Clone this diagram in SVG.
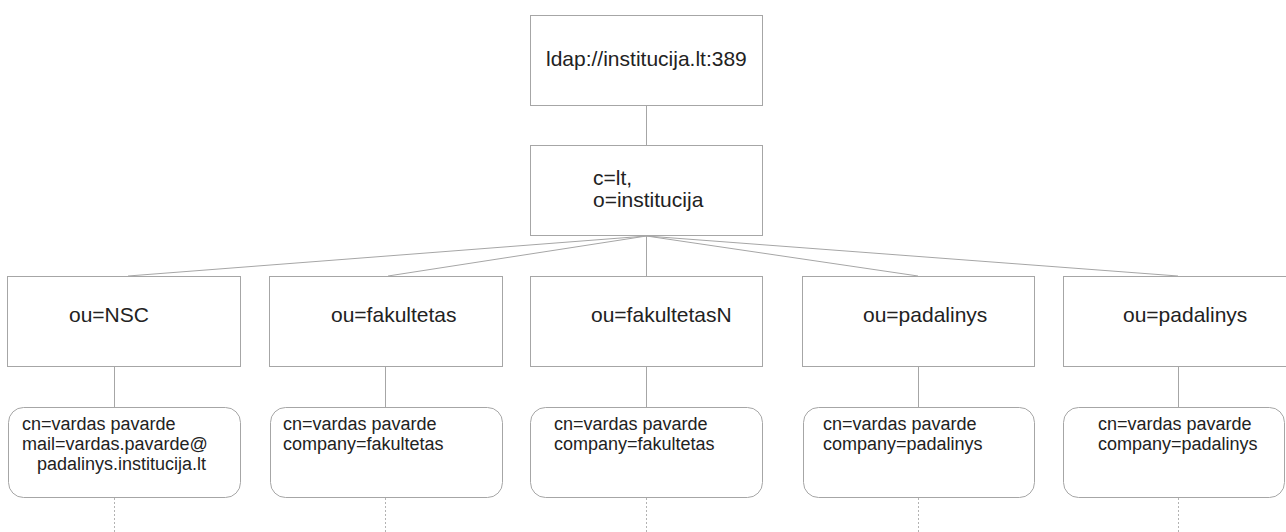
<svg xmlns="http://www.w3.org/2000/svg" width="1286" height="532" viewBox="0 0 1286 532">
  <style>
    .box { fill: #ffffff; stroke: #a6a6a6; stroke-width: 1; }
    .link { stroke: #a6a6a6; stroke-width: 1; fill: none; }
    .more { stroke: #b3b3b3; stroke-width: 1; stroke-dasharray: 2 2; fill: none; }
    .big { font-family: "Liberation Sans", Arial, sans-serif; font-size: 21px; fill: #222222; }
    .small { font-family: "Liberation Sans", Arial, sans-serif; font-size: 18px; fill: #222222; }
  </style>

  <rect width="1286" height="532" fill="#ffffff"/>

  <!-- connectors -->
  <g id="connectors">
    <line class="link" x1="646.5" y1="105" x2="646.5" y2="145"/>
    <line class="link" x1="646.5" y1="236" x2="128" y2="276"/>
    <line class="link" x1="646.5" y1="236" x2="388" y2="276"/>
    <line class="link" x1="646.5" y1="236" x2="646.5" y2="276"/>
    <line class="link" x1="646.5" y1="236" x2="918" y2="276"/>
    <line class="link" x1="646.5" y1="236" x2="1178" y2="276"/>
    <line class="link" x1="114.5" y1="367" x2="114.5" y2="407"/>
    <line class="link" x1="385.5" y1="367" x2="385.5" y2="407"/>
    <line class="link" x1="646.5" y1="367" x2="646.5" y2="407"/>
    <line class="link" x1="918.5" y1="367" x2="918.5" y2="407"/>
    <line class="link" x1="1178.5" y1="367" x2="1178.5" y2="407"/>
    <line class="more" x1="114.5" y1="498" x2="114.5" y2="532"/>
    <line class="more" x1="385.5" y1="498" x2="385.5" y2="532"/>
    <line class="more" x1="646.5" y1="498" x2="646.5" y2="532"/>
    <line class="more" x1="918.5" y1="498" x2="918.5" y2="532"/>
    <line class="more" x1="1178.5" y1="498" x2="1178.5" y2="532"/>
  </g>

  <!-- server -->
  <g id="server">
    <rect class="box" x="530.5" y="15.5" width="232" height="90"/>
    <text class="big" x="546" y="66">ldap://institucija.lt:389</text>
  </g>

  <!-- root entry -->
  <g id="root">
    <rect class="box" x="530.5" y="145.5" width="232" height="90"/>
    <text class="big" x="593" y="185">c=lt,</text>
    <text class="big" x="593" y="207">o=institucija</text>
  </g>

  <!-- organizational units -->
  <g id="ou-nsc">
    <rect class="box" x="7.5" y="276.5" width="233" height="90"/>
    <text class="big" x="69" y="322">ou=NSC</text>
  </g>
  <g id="ou-fakultetas">
    <rect class="box" x="269.5" y="276.5" width="233" height="90"/>
    <text class="big" x="331" y="322">ou=fakultetas</text>
  </g>
  <g id="ou-fakultetasN">
    <rect class="box" x="530.5" y="276.5" width="232" height="90"/>
    <text class="big" x="591" y="322">ou=fakultetasN</text>
  </g>
  <g id="ou-padalinys-1">
    <rect class="box" x="802.5" y="276.5" width="232" height="90"/>
    <text class="big" x="863" y="322">ou=padalinys</text>
  </g>
  <g id="ou-padalinys-2">
    <rect class="box" x="1063.5" y="276.5" width="240" height="90"/>
    <text class="big" x="1123" y="322">ou=padalinys</text>
  </g>

  <!-- person entries -->
  <g id="cn-nsc">
    <rect class="box" x="8.5" y="407.5" width="232" height="90" rx="15" ry="15"/>
    <text class="small" x="22" y="430">cn=vardas pavarde</text>
    <text class="small" x="22" y="450">mail=vardas.pavarde@</text>
    <text class="small" x="37" y="470">padalinys.institucija.lt</text>
  </g>
  <g id="cn-fakultetas">
    <rect class="box" x="270.5" y="407.5" width="232" height="90" rx="15" ry="15"/>
    <text class="small" x="283" y="430">cn=vardas pavarde</text>
    <text class="small" x="283" y="450">company=fakultetas</text>
  </g>
  <g id="cn-fakultetasN">
    <rect class="box" x="530.5" y="407.5" width="232" height="90" rx="15" ry="15"/>
    <text class="small" x="554" y="430">cn=vardas pavarde</text>
    <text class="small" x="554" y="450">company=fakultetas</text>
  </g>
  <g id="cn-padalinys-1">
    <rect class="box" x="803.5" y="407.5" width="231" height="90" rx="15" ry="15"/>
    <text class="small" x="823" y="430">cn=vardas pavarde</text>
    <text class="small" x="823" y="450">company=padalinys</text>
  </g>
  <g id="cn-padalinys-2">
    <rect class="box" x="1063.5" y="407.5" width="221" height="90" rx="15" ry="15"/>
    <text class="small" x="1098" y="430">cn=vardas pavarde</text>
    <text class="small" x="1098" y="450">company=padalinys</text>
  </g>
</svg>
